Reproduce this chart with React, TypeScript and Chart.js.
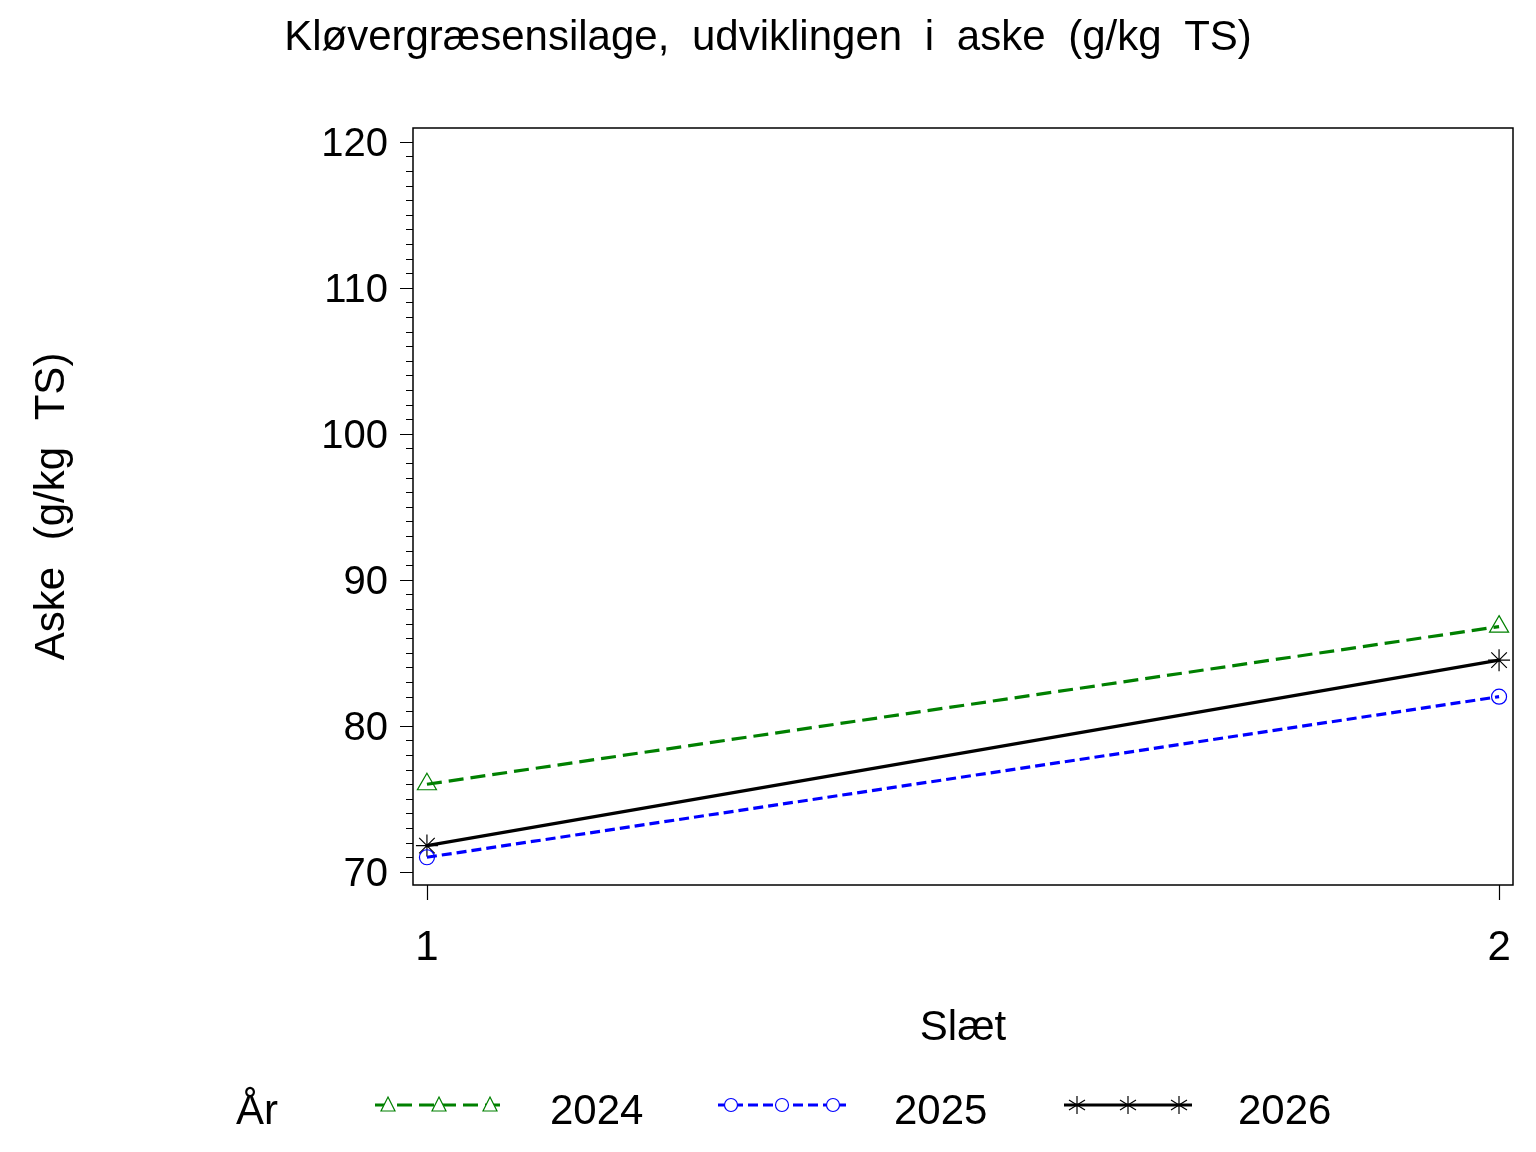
import { useEffect, useRef } from 'react';
import Chart from 'chart.js/auto';

const slaet = [1, 2];
const series2024 = [76.0, 86.8];
const series2025 = [71.0, 82.0];
const series2026 = [71.8, 84.5];
const yearLabels = ['2024', '2025', '2026'];
const yTicks = [70, 80, 90, 100, 110, 120];

const FONT = '"Liberation Sans", Arial, sans-serif';

// frame, tick marks, titles and the custom legend
const sasDecor = {
  id: 'sasDecor',
  afterDraw(chart: any) {
    const { ctx, chartArea } = chart;
    const y = chart.scales.y;
    const x = chart.scales.x;
    ctx.save();
    ctx.strokeStyle = '#000';
    ctx.lineWidth = 1.5;
    ctx.strokeRect(chartArea.left, chartArea.top, chartArea.right - chartArea.left, chartArea.bottom - chartArea.top);

    ctx.lineWidth = 1.2;
    ctx.beginPath();
    for (let v = 70; v <= 120; v++) {
      const py = Math.round(y.getPixelForValue(v)) + 0.5;
      const len = v % 10 === 0 ? 13 : 7;
      ctx.moveTo(chartArea.left, py);
      ctx.lineTo(chartArea.left - len, py);
    }
    slaet.forEach((s) => {
      const px = Math.round(x.getPixelForValue(s)) + 0.5;
      ctx.moveTo(px, chartArea.bottom);
      ctx.lineTo(px, chartArea.bottom + 15);
    });
    ctx.stroke();

    ctx.fillStyle = '#000';
    ctx.textBaseline = 'middle';
    ctx.textAlign = 'center';
    ctx.font = `42px ${FONT}`;
    (ctx as any).wordSpacing = '11px';
    ctx.fillText('Kløvergræsensilage, udviklingen i aske (g/kg TS)', 768, 38);
    ctx.fillText('Slæt', (chartArea.left + chartArea.right) / 2, 1028);
    (ctx as any).wordSpacing = '15px';
    ctx.save();
    ctx.translate(52, (chartArea.top + chartArea.bottom) / 2);
    ctx.rotate(-Math.PI / 2);
    ctx.fillText('Aske (g/kg TS)', 0, 0);
    ctx.restore();
    (ctx as any).wordSpacing = '0px';

    // legend
    ctx.textAlign = 'left';
    ctx.fillText('År', 236, 1112);
    const legendX = [375, 718, 1064];
    const textX = [550, 894, 1238];
    chart.data.datasets.forEach((ds: any, i: number) => {
      const x0 = legendX[i];
      const x1 = x0 + 128;
      const ly = 1105;
      ctx.save();
      ctx.strokeStyle = ds.borderColor;
      ctx.lineWidth = 3;
      ctx.setLineDash(ds.borderDash || []);
      ctx.beginPath();
      ctx.moveTo(x0, ly);
      ctx.lineTo(x1, ly);
      ctx.stroke();
      ctx.restore();
      [x0 + 13, x0 + 64, x0 + 115].forEach((mx) => drawMarker(ctx, ds.pointStyle, mx, ly, ds.pointBorderColor));
      ctx.fillStyle = '#000';
      ctx.fillText(yearLabels[i], textX[i], 1112);
    });
    ctx.restore();
  },
};

function drawMarker(ctx: CanvasRenderingContext2D, style: string, x: number, y: number, color: string) {
  ctx.save();
  ctx.strokeStyle = color;
  ctx.lineWidth = 1.2;
  ctx.setLineDash([]);
  ctx.beginPath();
  if (style === 'triangle') {
    ctx.moveTo(x, y - 8);
    ctx.lineTo(x + 7, y + 6);
    ctx.lineTo(x - 7, y + 6);
    ctx.closePath();
    ctx.fillStyle = '#fff';
    ctx.fill();
  } else if (style === 'circle') {
    ctx.arc(x, y, 6.5, 0, Math.PI * 2);
    ctx.fillStyle = '#fff';
    ctx.fill();
  } else {
    ctx.moveTo(x, y - 9);
    ctx.lineTo(x, y + 9);
    ctx.moveTo(x - 8, y - 5);
    ctx.lineTo(x + 8, y + 5);
    ctx.moveTo(x - 8, y + 5);
    ctx.lineTo(x + 8, y - 5);
  }
  ctx.stroke();
  ctx.restore();
}

export default function App() {
  const chartRef = useRef<HTMLCanvasElement>(null);
  const chartInstance = useRef<Chart | null>(null);

  useEffect(() => {
    if (!chartRef.current) return;
    if (chartInstance.current) chartInstance.current.destroy();
    const ctx = chartRef.current.getContext('2d');
    if (!ctx) return;

    const toPoints = (vals: number[]) => vals.map((v, i) => ({ x: slaet[i], y: v }));

    chartInstance.current = new Chart(ctx, {
      type: 'line',
      data: {
        datasets: [
          {
            label: yearLabels[0],
            data: toPoints(series2024),
            borderColor: '#008000',
            borderWidth: 3.2,
            borderDash: [15, 7],
            pointStyle: 'triangle',
            pointRadius: 11,
            pointBorderWidth: 1.2,
            pointBorderColor: '#008000',
            pointBackgroundColor: 'rgba(255,255,255,0)',
          },
          {
            label: yearLabels[1],
            data: toPoints(series2025),
            borderColor: '#0000ff',
            borderWidth: 3.2,
            borderDash: [10, 5],
            pointStyle: 'circle',
            pointRadius: 7.5,
            pointBorderWidth: 1.2,
            pointBorderColor: '#0000ff',
            pointBackgroundColor: 'rgba(255,255,255,0)',
          },
          {
            label: yearLabels[2],
            data: toPoints(series2026),
            borderColor: '#000000',
            borderWidth: 3.2,
            pointStyle: 'star',
            pointRadius: 11,
            pointBorderWidth: 1.2,
            pointBorderColor: '#000000',
            pointBackgroundColor: 'rgba(0,0,0,0)',
          },
        ],
      },
      options: {
        animation: false,
        responsive: false,
        layout: { padding: { left: 313, right: 23, top: 128, bottom: 167 } },
        plugins: { legend: { display: false }, title: { display: false }, tooltip: { enabled: false } },
        scales: {
          x: {
            type: 'linear',
            min: 0.987,
            max: 2.013,
            afterBuildTicks: (scale: any) => { scale.ticks = slaet.map((v) => ({ value: v })); },
            afterFit: (scale: any) => {
              scale.height = 100;
              scale.paddingLeft = 0;
              scale.paddingRight = 0;
            },
            grid: { display: true, drawOnChartArea: false, drawTicks: false, color: 'rgba(0,0,0,0)' },
            border: { display: false },
            ticks: { padding: 38, color: '#000', font: { family: FONT, size: 42 }, maxRotation: 0 },
          },
          y: {
            min: 69.1,
            max: 120.95,
            afterBuildTicks: (scale: any) => { scale.ticks = yTicks.map((v) => ({ value: v })); },
            afterFit: (scale: any) => {
              scale.width = 100;
              scale.paddingTop = 0;
              scale.paddingBottom = 0;
            },
            grid: { display: true, drawOnChartArea: false, drawTicks: false, color: 'rgba(0,0,0,0)' },
            border: { display: false },
            ticks: { padding: 25, labelOffset: 3, color: '#000', font: { family: FONT, size: 40 } },
          },
        },
      },
      plugins: [sasDecor],
    });

    return () => {
      if (chartInstance.current) chartInstance.current.destroy();
    };
  }, []);

  return (
    <div style={{ position: 'absolute', left: 0, top: 0, width: 1536, height: 1152, background: '#fff' }}>
      <canvas ref={chartRef} width={1536} height={1152} />
    </div>
  );
}
